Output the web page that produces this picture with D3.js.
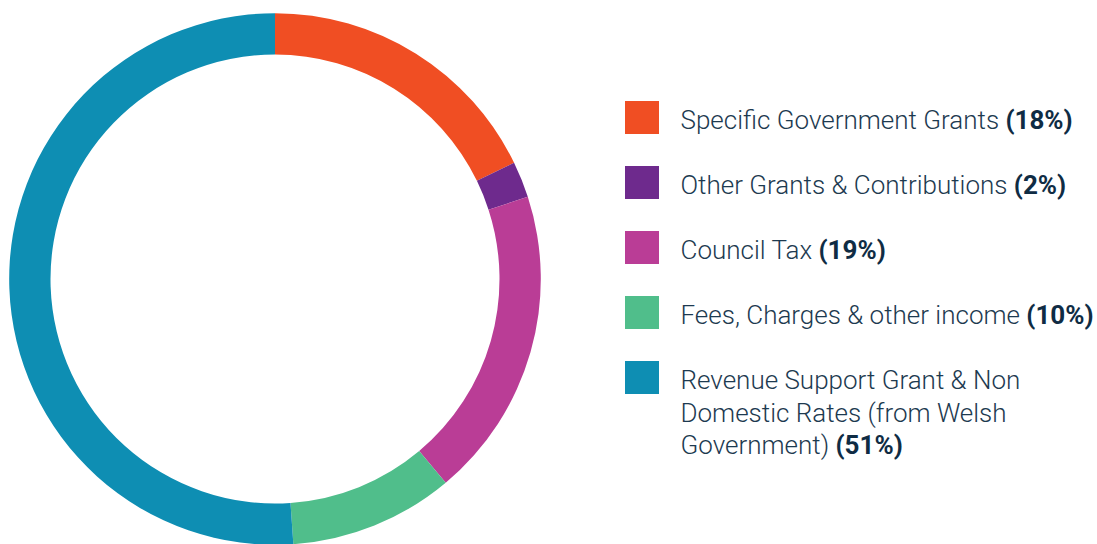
<!DOCTYPE html>
<html>
<head>
<meta charset="utf-8">
<script src="https://cdn.jsdelivr.net/npm/d3@7"></script>
<style>
  html, body { margin: 0; padding: 0; background: #fff; }
  svg { display: block; }
  .legend text { font-family: Roboto, "Liberation Sans", sans-serif; fill: #1d3a50; }
</style>
</head>
<body>
<div id="chart"></div>
<script>
// Income sources (share of total, read from the ring)
const categories = [
    ['Specific Government Grants'],
    ['Other Grants & Contributions'],
    ['Council Tax'],
    ['Fees, Charges & other income'],
    ['Revenue Support Grant & Non', 'Domestic Rates (from Welsh', 'Government)']
];
const values = [17.8, 2.2, 18.9, 10.0, 51.1];
const pctLabels = ['(18%)', '(2%)', '(19%)', '(10%)', '(51%)'];
const colors = ['#f04e23', '#6e2a8d', '#ba3d96', '#50be8b', '#0e8eb3'];

const width = 1097;
const height = 544;

const svg = d3.select('#chart')
    .append('svg')
    .attr('width', width)
    .attr('height', height);

// Donut
const pie = d3.pie().sort(null).value(d => d);
const arc = d3.arc().innerRadius(224.5).outerRadius(265.8);

svg.append('g')
    .attr('transform', 'translate(275,279)')
    .selectAll('path')
    .data(pie(values))
    .enter()
    .append('path')
    .attr('d', arc)
    .attr('fill', (d, i) => colors[i]);

// Legend
const rowY = d3.scaleLinear().domain([0, 1]).range([101, 166]);
const legend = svg.append('g').attr('class', 'legend');

const rows = legend.selectAll('g')
    .data(categories)
    .enter()
    .append('g')
    .attr('transform', (d, i) => `translate(625,${rowY(i)})`);

rows.append('rect')
    .attr('width', 34)
    .attr('height', 33)
    .attr('fill', (d, i) => colors[i]);

const lineH = 32.5;
rows.each(function(lines, i) {
    const g = d3.select(this);
    const t = g.append('text')
        .attr('x', 55.5)
        .attr('y', 28)
        .style('font-size', '26px')
        .style('font-weight', 300);
    lines.forEach((line, j) => {
        t.append('tspan')
            .attr('x', 55.5)
            .attr('dy', j === 0 ? 0 : lineH)
            .text(line + ' ');
        if (j === lines.length - 1) {
            t.append('tspan')
                .style('font-weight', 700)
                .style('fill', '#0f2c44')
                .text(pctLabels[i]);
        }
    });
});
</script>
</body>
</html>
